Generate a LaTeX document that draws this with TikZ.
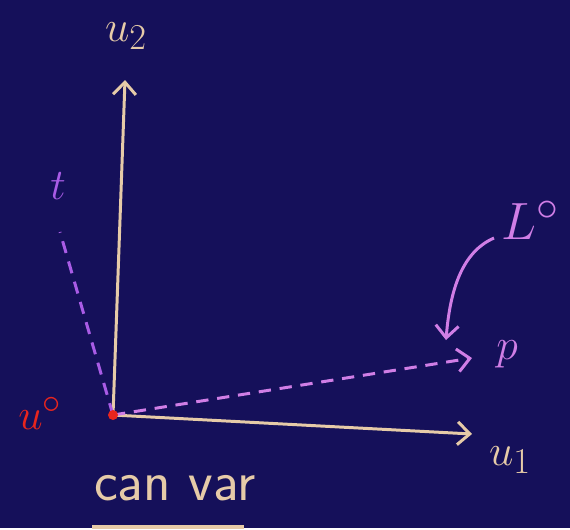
\documentclass[tikz,border=0pt]{standalone}
\usepackage{tikz}
\usetikzlibrary{arrows.meta}
\definecolor{bg}{HTML}{15105A}
\definecolor{chalk}{HTML}{E6CBA8}
\definecolor{rose}{HTML}{D07EE6}
\definecolor{lilac}{HTML}{A95CE6}
\definecolor{redpt}{HTML}{E8251E}
\tikzset{>={Straight Barb[length=7pt,width=13pt]},every node/.style={font=\Huge\sffamily},
axis/.style={chalk,line width=1.7pt,->},ray/.style={rose,line width=1.7pt,dash pattern=on 7pt off 5pt},
pointer/.style={rose,line width=1.7pt,->}}

\begin{document}
\begin{tikzpicture}[x=0.02cm,y=-0.02cm]
\fill[bg] (0,0) rectangle (570,528);
\coordinate (O) at (113,415);\coordinate (e2) at (125,80);\coordinate (e1) at (472,434);
\coordinate (t) at (60,232);\coordinate (p) at (472,358);\coordinate (Ltail) at (494,238);
\draw[axis] (O)--(e2);\draw[axis] (O)--(e1);
\draw[ray,lilac] (O)--(t);\draw[ray,->] (O)--(p);
\draw[pointer] (Ltail) .. controls (462,252) and (450,290) .. (446,340);
\fill[redpt] (O) circle(5);
\node[chalk] (u2) at (126,36){$u_2$};\node[chalk] (u1) at (510,460){$u_1$};
\node[lilac] (tl) at (58,186){$t$};\node[rose] (pl) at (507,354){$p$};
\node[rose,scale=1.2] (L) at (530,220){$L^{\circ}$};
\node[redpt] (u0) at (40,413){$u^{\circ}$};
\node[chalk,scale=1.3] (cv) at (175,488){can var};
\draw[chalk,line width=2.5pt] (92,527)--(244,527);
\end{tikzpicture}
\end{document}
